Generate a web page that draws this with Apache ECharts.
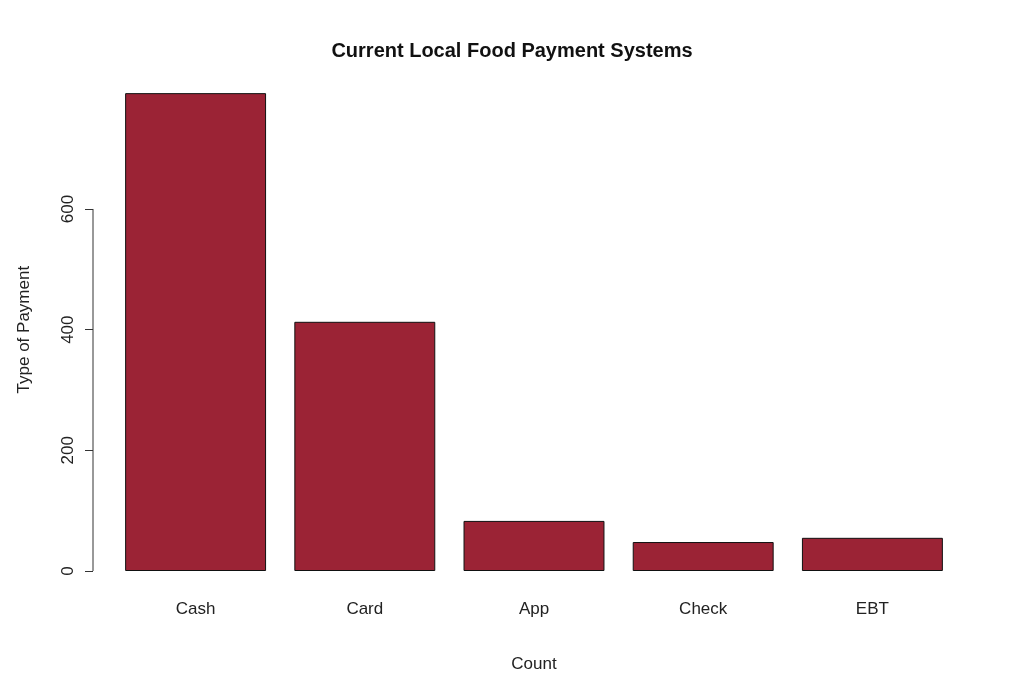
<!DOCTYPE html>
<html><head><meta charset="utf-8">
<script src="https://cdn.jsdelivr.net/npm/echarts@6/dist/echarts.min.js"></script>
<style>html,body{margin:0;background:#fff}#c{width:1024px;height:691px}</style>
</head><body><div id="c"></div>
<script>
const categories = ["Cash","Card","App","Check","EBT"];
const counts = [792, 413, 83, 48, 55];
const yTicks = [0, 200, 400, 600];
const chart = echarts.init(document.getElementById('c'));
const font = 'Liberation Sans, Arial, sans-serif';
chart.setOption({
  animation: false,
  title: {text: 'Current Local Food Payment Systems', left: 'center', top: 36,
    textStyle: {fontFamily: font, fontSize: 20, fontWeight: 'bold', color: '#111'}},
  grid: {left: 111, right: 1024 - 957, top: 88.3, bottom: 691 - 571},
  xAxis: {type: 'category', data: categories,
    axisLine: {show: false}, axisTick: {show: false},
    axisLabel: {margin: 30, fontFamily: font, fontSize: 17, color: '#222'},
    name: 'Count', nameLocation: 'middle', nameGap: 85,
    nameTextStyle: {fontFamily: font, fontSize: 17, color: '#222'}},
  yAxis: {type: 'value', min: 0, max: 800, interval: 200, offset: 18,
    splitLine: {show: false}, axisLine: {show: false},
    axisTick: {show: true, length: 8, customValues: yTicks, lineStyle: {color: '#333'}},
    axisLabel: {customValues: yTicks, rotate: 90, margin: 16, fontFamily: font, fontSize: 17, color: '#222'},
    name: 'Type of Payment', nameLocation: 'middle', nameGap: 60, nameRotate: 90,
    nameTextStyle: {fontFamily: font, fontSize: 17, color: '#222'}},
  series: [{type: 'bar', data: counts, barWidth: '83.3%',
    itemStyle: {color: '#9B2335', borderColor: '#111', borderWidth: 1}}]
});
const p0 = chart.convertToPixel({yAxisIndex: 0}, yTicks[0]);
const p1 = chart.convertToPixel({yAxisIndex: 0}, yTicks[yTicks.length - 1]);
chart.setOption({graphic: [{type: 'line', shape: {x1: 93, y1: p0, x2: 93, y2: p1},
  style: {stroke: '#333', lineWidth: 1}}]});
</script></body></html>
